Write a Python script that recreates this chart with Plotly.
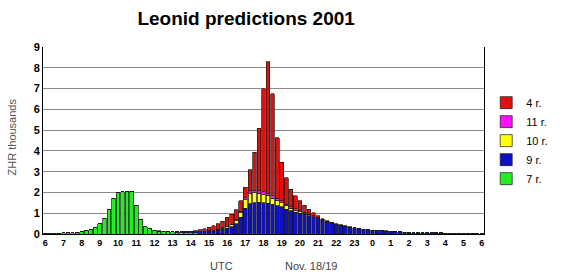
import plotly.graph_objects as go

# 15-minute bins from 06:00 Nov 18 to 06:00 Nov 19 (97 categories)
hours = [6, 7, 8, 9, 10, 11, 12, 13, 14, 15, 16, 17, 18, 19, 20, 21, 22, 23, 0, 1, 2, 3, 4, 5, 6]
categories = []
for k, h in enumerate(hours):
    for q in range(4):
        if k == len(hours) - 1 and q > 0:
            break
        categories.append(f"d{k // 18}-{h:02d}:{q * 15:02d}")
tick_labels = [f"<b>{h}</b>" for h in hours]
tick_vals = [categories[4 * k] for k in range(len(hours))]

# ZHR in thousands, per series
r7 = [0.03, 0.03, 0.04, 0.04, 0.05, 0.06, 0.07, 0.09, 0.12, 0.15, 0.2, 0.3,
      0.5, 0.75, 1.2, 1.72, 2.0, 2.03, 2.03, 2.05, 1.38, 0.7, 0.35, 0.25,
      0.17, 0.14, 0.12, 0.11, 0.1, 0.09, 0.08, 0.07, 0.06, 0.05, 0.04, 0.03,
      0.03, 0.02, 0.02, 0.02, 0.02, 0, 0, 0, 0, 0, 0, 0,
      0, 0, 0, 0, 0, 0, 0, 0, 0, 0, 0, 0, 0, 0, 0, 0, 0, 0, 0, 0, 0, 0, 0, 0,
      0, 0, 0, 0, 0, 0, 0, 0, 0, 0, 0, 0, 0, 0, 0, 0, 0, 0, 0, 0, 0, 0, 0, 0, 0]
r9 = [0] * 28 + [0.01, 0.02, 0.03, 0.04, 0.05, 0.06, 0.07, 0.08,
      0.1, 0.12, 0.15, 0.2, 0.26, 0.35, 0.5, 0.8, 1.25, 1.45, 1.5, 1.52,
      1.5, 1.48, 1.43, 1.37, 1.3, 1.2, 1.12, 1.05, 1.0, 0.95, 0.88, 0.8,
      0.73, 0.64, 0.57, 0.51, 0.46, 0.41, 0.37, 0.33, 0.29, 0.26, 0.23, 0.2,
      0.18, 0.16, 0.15, 0.14, 0.12, 0.11, 0.1, 0.09, 0.08, 0.07, 0.07, 0.06,
      0.06, 0.05, 0.05, 0.05, 0.04, 0.04, 0.04, 0.03, 0.03, 0.03, 0.03, 0.02, 0.02]
r10 = [0] * 33 + [0.01, 0.01, 0.02, 0.02, 0.03, 0.04, 0.06, 0.08, 0.1, 0.14, 0.22,
       0.4, 0.5, 0.48, 0.44, 0.4, 0.35, 0.3, 0.25, 0.2, 0.16, 0.13, 0.1,
       0.08, 0.06, 0.05, 0.04, 0.03, 0.02, 0.02, 0.01, 0.01, 0.01] + [0] * 31
r11 = [0] * 38 + [0.01, 0.01, 0.02, 0.03, 0.04, 0.06, 0.1, 0.12, 0.13, 0.13,
       0.13, 0.12, 0.11, 0.1, 0.09, 0.08, 0.07, 0.06, 0.05, 0.04, 0.03, 0.03,
       0.02, 0.02, 0.01, 0.01, 0.01] + [0] * 32
r4 = [0] * 24 + [0.01, 0.01, 0.02, 0.02, 0.01, 0.01, 0.01, 0.02, 0.03, 0.04,
      0.08, 0.12, 0.18, 0.23, 0.28, 0.33, 0.42, 0.47, 0.49, 0.52, 0.49, 1.03,
      1.82, 3.0, 4.95, 6.35, 4.9, 2.92, 1.86, 1.26, 0.83, 0.64, 0.47, 0.33,
      0.24, 0.15, 0.1, 0.06, 0.03, 0.03, 0.02, 0.03, 0.03, 0.02, 0.02, 0.01,
      0.01, 0.01, 0.01, 0.01, 0.01, 0.01, 0.01, 0.01, 0.01] + [0] * 16

series = [
    ("7 r.", r7, "#22EE22"),
    ("9 r.", r9, "#1010C8"),
    ("10 r.", r10, "#FFFF10"),
    ("11 r.", r11, "#FF10FF"),
    ("4 r.", r4, "#E01010"),
]

fig = go.Figure()
for name, vals, col in series:
    fig.add_trace(go.Bar(
        x=categories, y=vals, name=name,
        marker=dict(color=col, line=dict(color="#1a1a1a", width=0.7)),
    ))

fig.update_layout(
    width=562, height=280,
    barmode="stack", bargap=0.18,
    paper_bgcolor="white", plot_bgcolor="white",
    margin=dict(l=43, r=78, t=47, b=46, autoexpand=False),
    font=dict(family="Liberation Sans, Arial, sans-serif", color="black"),
    title=dict(text="<b>Leonid predictions 2001</b>", x=0.438, xanchor="center",
               y=0.936, yanchor="middle", yref="container",
               font=dict(size=19, color="black")),
    legend=dict(x=1.005, y=0.78, xanchor="left", yanchor="top",
                traceorder="reversed", font=dict(size=11),
                bgcolor="rgba(0,0,0,0)", itemwidth=30),
    showlegend=True,
)
fig.update_xaxes(
    type="category", categoryorder="array", categoryarray=categories,
    tickmode="array", tickvals=tick_vals, ticktext=tick_labels,
    tickfont=dict(size=9, family="Liberation Sans, Arial, sans-serif", color="black"),
    showline=True, linecolor="black", linewidth=1, ticks="", showgrid=False,
)
fig.update_yaxes(
    range=[0, 9], dtick=1, showgrid=True, gridcolor="#8a8a8a", gridwidth=1,
    tickfont=dict(size=11, color="black"), tickprefix="<b>", ticksuffix="</b>",
    showline=True, linecolor="black", linewidth=1, mirror=True, zeroline=False,
    ticks="", ticklen=0,
)
fig.add_annotation(text="ZHR thousands", textangle=-90, xref="paper", yref="paper",
                   x=-0.071, y=0.52, showarrow=False, xanchor="center", yanchor="middle",
                   font=dict(size=11, color="#555555"))
fig.add_annotation(text="UTC", xref="paper", yref="paper", x=(221 - 43) / 441,
                   y=-0.17, showarrow=False, yanchor="middle",
                   font=dict(size=11, color="#444444"))
fig.add_annotation(text="Nov. 18/19", xref="paper", yref="paper", x=(311 - 43) / 441,
                   y=-0.17, showarrow=False, yanchor="middle",
                   font=dict(size=11, color="#444444"))

fig.write_html("out.html")
